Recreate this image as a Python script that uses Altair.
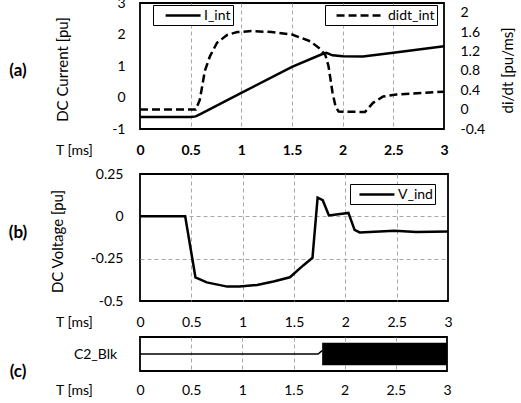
import altair as alt
import pandas as pd

FONT = "Lato"

# ---- (a) DC current and its rate of change ----
t_cur = [0, 0.5, 0.55, 0.6, 1.0, 1.5, 1.8, 1.84, 1.9, 2.0, 2.2, 2.5, 3.0]
i_int = [-0.62, -0.62, -0.6, -0.52, 0.15, 0.97, 1.38, 1.42, 1.34, 1.31, 1.3, 1.42, 1.63]

t_didt = [0, 0.55, 0.59, 0.64, 0.69, 0.76, 0.86, 0.96, 1.1, 1.3, 1.5, 1.68, 1.78,
          1.83, 1.86, 1.9, 1.93, 1.96, 2.22, 2.3, 2.4, 2.53, 3.0]
didt_int = [0, 0, 0.2, 0.8, 1.1, 1.38, 1.54, 1.6, 1.62, 1.6, 1.55, 1.41, 1.25,
            1.12, 0.9, 0.35, 0.06, -0.04, -0.05, 0.14, 0.27, 0.31, 0.37]

# ---- (b) voltage across the inductor ----
t_vind = [0, 0.44, 0.54, 0.65, 0.85, 0.97, 1.14, 1.3, 1.46, 1.59, 1.68, 1.73,
          1.78, 1.84, 2.03, 2.09, 2.14, 2.48, 2.69, 3.0]
v_ind = [0, 0, -0.36, -0.39, -0.415, -0.415, -0.405, -0.385, -0.36, -0.29, -0.245,
         0.11, 0.095, 0.005, 0.02, -0.08, -0.095, -0.085, -0.093, -0.09]

# ---- (c) C2 block signal: idle level, then fast switching band ----
blk_t = [0, 1.74, 1.78]
blk_level = [0, 0, 0.3]
blk_start = [1.78]
blk_end = [3.0]
blk_low = [-1]
blk_high = [1]

x_ticks = [0, 0.5, 1, 1.5, 2, 2.5, 3]
cur_ticks = [-1, 0, 1, 2, 3]
didt_ticks = [-0.4, 0, 0.4, 0.8, 1.2, 1.6, 2]
volt_ticks = [-0.5, -0.25, 0, 0.25]

df_i = pd.DataFrame({"t": t_cur, "v": i_int, "series_i": "I_int"})
df_d = pd.DataFrame({"t": t_didt, "v": didt_int, "series_d": "didt_int"})
df_v = pd.DataFrame({"t": t_vind, "v": v_ind, "series_v": "V_ind"})
df_bl = pd.DataFrame({"t": blk_t, "v": blk_level})
df_bb = pd.DataFrame({"t0": blk_start, "t1": blk_end, "lo": blk_low, "hi": blk_high})

x_scale = alt.Scale(domain=[0, 3], nice=False)
inner_grid = {"condition": {"test": "datum.value == 0 || datum.value == 3", "value": 0}, "value": 1}
inner_grid_y = {"condition": {"test": "datum.value == -0.5 || datum.value == 0.25", "value": 0}, "value": 1}


def x_axis(bold, pad):
    return alt.Axis(
        values=x_ticks, labelExpr="'' + datum.value", labelFlush=False, labelOverlap=False,
        grid=True, gridDash=[4, 3], gridColor="#a8a8a8", gridWidth=1, gridOpacity=inner_grid,
        ticks=False, tickSize=0, domain=False,
        labelPadding=pad, labelBaseline="middle", labelFontSize=14,
        labelFontWeight="bold" if bold else "normal",
        title="T [ms]", titleX=-66, titleY=pad, titleAlign="center", titleBaseline="middle",
        titleAngle=0, titleFontSize=14, titleFontWeight="normal",
    )


def label_layer(text, y):
    return alt.Chart(pd.DataFrame({"lab": [text]})).mark_text(
        font=FONT, fontSize=17, fontWeight="bold", color="black"
    ).encode(x=alt.value(-122), y=alt.value(y), text="lab:N")


def legend(x, y, path, label_offset):
    # wide line sample drawn as a custom path inside a 14px symbol slot
    return alt.Legend(
        orient="none", legendX=x, legendY=y, title=None, symbolType=path,
        symbolSize=196, symbolStrokeWidth=2.5, symbolStrokeColor="black",
        labelOffset=label_offset, strokeColor="black", fillColor="white", padding=2,
        labelFontSize=14, labelFont=FONT, labelColor="black",
    )


def spacer(h):
    return alt.Chart(pd.DataFrame({"t": [0]})).mark_point(opacity=0).encode(
        x=alt.value(0), y=alt.value(0)
    ).properties(width=300, height=h, view=alt.ViewBackground(stroke="transparent"))


# panel (a)
line_i = alt.Chart(df_i).mark_line(strokeWidth=2.5).encode(
    x=alt.X("t:Q", scale=x_scale, axis=x_axis(True, 21)),
    y=alt.Y("v:Q", scale=alt.Scale(domain=[-1, 3], nice=False),
            axis=alt.Axis(values=cur_ticks, labelExpr="'' + datum.value", grid=False,
                          ticks=False, tickSize=0, domain=False, labelPadding=15,
                          labelFontSize=14, title="DC Current [pu]", titleX=-78, titleY=66,
                          titleAngle=270, titleAlign="center", titleBaseline="middle",
                          titleFontSize=15, titleFontWeight="normal")),
    color=alt.Color("series_i:N", scale=alt.Scale(domain=["I_int"], range=["black"]),
                    legend=legend(13, 2, "M0.3,0H5.3", 32)),
)
line_d = alt.Chart(df_d).mark_line(strokeWidth=2.5, color="black").encode(
    x=alt.X("t:Q", scale=x_scale, axis=x_axis(True, 21)),
    y=alt.Y("v:Q", scale=alt.Scale(domain=[-0.4, 2.2], nice=False),
            axis=alt.Axis(orient="right", values=didt_ticks, labelExpr="'' + datum.value",
                          grid=False, ticks=False, tickSize=0, domain=False, labelPadding=16,
                          labelFontSize=14, title="di/dt [pu/ms]", titleX=63, titleY=67,
                          titleAngle=270, titleAlign="center", titleBaseline="middle",
                          titleFontSize=15, titleFontWeight="normal")),
    strokeDash=alt.StrokeDash("series_d:N",
                              scale=alt.Scale(domain=["didt_int"], range=[[8, 4]]),
                              legend=legend(185, 2, "M0.15,0H7", 44)),
)
panel_a = alt.layer(line_i, line_d, label_layer("(a)", 68)).resolve_scale(
    y="independent"
).properties(width=304, height=126)

# panel (b)
line_v = alt.Chart(df_v).mark_line(strokeWidth=2.5).encode(
    x=alt.X("t:Q", scale=x_scale, axis=x_axis(False, 21)),
    y=alt.Y("v:Q", scale=alt.Scale(domain=[-0.5, 0.25], nice=False),
            axis=alt.Axis(values=volt_ticks, labelExpr="'' + datum.value", grid=True,
                          gridDash=[4, 3], gridColor="#a8a8a8", gridWidth=1,
                          gridOpacity=inner_grid_y, ticks=False, tickSize=0, domain=False,
                          labelPadding=17, labelFontSize=14, title="DC Voltage [pu]",
                          titleX=-83, titleY=67, titleAngle=270, titleAlign="center",
                          titleBaseline="middle", titleFontSize=15, titleFontWeight="normal")),
    color=alt.Color("series_v:N", scale=alt.Scale(domain=["V_ind"], range=["black"]),
                    legend=legend(210, 10, "M-0.15,0H4.85", 29)),
)
panel_b = alt.layer(line_v, label_layer("(b)", 59)).properties(width=308, height=127)

# panel (c)
blk_y = alt.Scale(domain=[-1.5, 1.5], nice=False)
blk_line = alt.Chart(df_bl).mark_line(strokeWidth=1.5, color="black").encode(
    x=alt.X("t:Q", scale=x_scale, axis=x_axis(False, 19)),
    y=alt.Y("v:Q", scale=blk_y,
            axis=alt.Axis(labels=False, ticks=False, tickSize=0, domain=False, grid=False,
                          title="C2_Blk", titleAngle=0, titleX=-45, titleY=17,
                          titleAlign="center", titleBaseline="middle", titleFontSize=14,
                          titleFontWeight="normal")),
)
blk_band = alt.Chart(df_bb).mark_rect(color="black").encode(
    x=alt.X("t0:Q", scale=x_scale), x2="t1:Q",
    y=alt.Y("lo:Q", scale=blk_y), y2="hi:Q",
)
panel_c = alt.layer(blk_line, blk_band, label_layer("(c)", 35)).properties(width=307, height=34)

chart = alt.vconcat(
    panel_a, spacer(45), panel_b, spacer(36), panel_c, spacing=0, bounds="flush",
).resolve_scale(color="independent", strokeDash="independent").properties(
    autosize=alt.AutoSizeParams(type="none"),
    padding={"left": 140, "top": 3, "right": 381, "bottom": 400},
    background="white",
).configure_view(
    stroke="black", strokeWidth=1.8
).configure_axis(
    labelFont=FONT, titleFont=FONT, labelColor="black", titleColor="black"
).configure_text(font=FONT)

chart.save("out.html", embed_options={"renderer": "svg", "actions": False})
